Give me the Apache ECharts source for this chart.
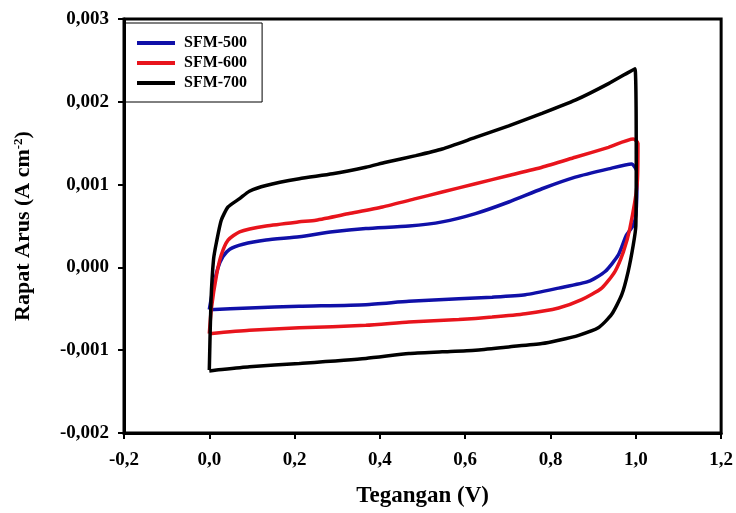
<!DOCTYPE html>
<html>
<head>
<meta charset="utf-8">
<title>Voltammogram SFM</title>
<script src="https://cdn.jsdelivr.net/npm/echarts@6/dist/echarts.min.js"></script>
<style>
  html, body { margin: 0; padding: 0; background: #fff; }
  #chart { width: 736px; height: 513px; }
</style>
</head>
<body>
<div id="chart"></div>
<script>
/* Kurva CV: rapat arus vs tegangan untuk SFM-500/600/700 */

// tegangan (V) dan rapat arus (A cm-2)
var sfm500V = [0.000, 0.009, 0.020, 0.032, 0.048, 0.079, 0.133, 0.211, 0.289, 0.367, 0.468, 0.546, 0.624, 0.702, 0.780, 0.858, 0.936, 0.990, 1.003, 1.000, 0.993, 0.978, 0.959, 0.928, 0.889, 0.819, 0.741, 0.663, 0.585, 0.468, 0.367, 0.211, 0.094, 0.000];
var sfm500J = [-0.00051, -0.00025, -0.00001, 0.00013, 0.00022, 0.00028, 0.00033, 0.00037, 0.00043, 0.00047, 0.00050, 0.00055, 0.00065, 0.00079, 0.00095, 0.00109, 0.00119, 0.00125, 0.00115, 0.00063, 0.00050, 0.00039, 0.00015, -0.00005, -0.00017, -0.00025, -0.00033, -0.00036, -0.00038, -0.00041, -0.00045, -0.00047, -0.00049, -0.00051];

var sfm600V = [0.000, 0.005, 0.017, 0.028, 0.044, 0.071, 0.133, 0.211, 0.250, 0.328, 0.406, 0.484, 0.546, 0.624, 0.702, 0.780, 0.858, 0.936, 0.994, 1.005, 1.003, 0.986, 0.971, 0.951, 0.920, 0.873, 0.819, 0.741, 0.663, 0.585, 0.468, 0.367, 0.211, 0.094, 0.000];
var sfm600J = [-0.00080, -0.00049, -0.00009, 0.00015, 0.00033, 0.00043, 0.00050, 0.00055, 0.00057, 0.00065, 0.00073, 0.00083, 0.00091, 0.00101, 0.00111, 0.00121, 0.00133, 0.00145, 0.00155, 0.00150, 0.00100, 0.00047, 0.00019, -0.00005, -0.00025, -0.00039, -0.00049, -0.00056, -0.00060, -0.00063, -0.00066, -0.00070, -0.00073, -0.00076, -0.00080];

var sfm700V = [0.000, 0.004, 0.010, 0.017, 0.028, 0.044, 0.071, 0.094, 0.133, 0.211, 0.289, 0.367, 0.414, 0.484, 0.546, 0.624, 0.702, 0.780, 0.858, 0.936, 0.998, 1.001, 1.000, 0.994, 0.982, 0.967, 0.943, 0.912, 0.866, 0.819, 0.780, 0.702, 0.624, 0.546, 0.468, 0.367, 0.211, 0.094, 0.017, 0.000];
var sfm700J = [-0.00124, -0.00040, 0.00010, 0.00031, 0.00057, 0.00073, 0.00083, 0.00092, 0.00099, 0.00107, 0.00113, 0.00121, 0.00127, 0.00135, 0.00143, 0.00157, 0.00171, 0.00186, 0.00202, 0.00222, 0.00240, 0.00130, 0.00050, 0.00027, -0.00005, -0.00033, -0.00057, -0.00073, -0.00082, -0.00088, -0.00092, -0.00096, -0.00100, -0.00102, -0.00104, -0.00110, -0.00116, -0.00120, -0.00124, -0.00125];

var seriesNames = ['SFM-500', 'SFM-600', 'SFM-700'];
var seriesColors = ['#1010a8', '#e8141c', '#000000'];

(function () {
  'use strict';

  var serif = '"Liberation Serif", "Times New Roman", serif';

  function pairs(xs, ys) {
    return xs.map(function (x, i) { return [x, ys[i]]; });
  }

  var curves = [pairs(sfm500V, sfm500J), pairs(sfm600V, sfm600J), pairs(sfm700V, sfm700J)];

  var chart = echarts.init(document.getElementById('chart'), null, { renderer: 'canvas' });

  chart.setOption({
    animation: false,
    backgroundColor: '#fff',
    grid: {
      left: 124,
      right: 12,
      top: 19,
      bottom: 79,
      show: true,
      borderColor: '#000',
      borderWidth: 3
    },
    legend: {
      orient: 'vertical',
      left: 125,
      top: 23,
      padding: [12, 15, 11, 12],
      itemGap: 4,
      itemWidth: 38,
      itemHeight: 4,
      icon: 'rect',
      borderColor: '#000',
      borderWidth: 1,
      data: seriesNames,
      textStyle: {
        color: '#000',
        fontFamily: serif,
        fontWeight: 'bold',
        fontSize: 16,
        padding: [0, 0, 0, 4]
      }
    },
    xAxis: {
      type: 'value',
      min: -0.2,
      max: 1.2,
      interval: 0.2,
      name: 'Tegangan (V)',
      nameLocation: 'middle',
      nameGap: 52,
      nameTextStyle: { color: '#000', fontFamily: serif, fontWeight: 'bold', fontSize: 23 },
      axisLine: { onZero: false, lineStyle: { color: '#000', width: 3 } },
      axisTick: { length: 6, lineStyle: { color: '#000', width: 2 } },
      splitLine: { show: false },
      axisLabel: {
        margin: 18,
        color: '#000',
        fontFamily: serif,
        fontWeight: 'bold',
        fontSize: 19,
        formatter: function (v) { return v.toFixed(1).replace('.', ','); }
      }
    },
    yAxis: {
      type: 'value',
      min: -0.002,
      max: 0.003,
      interval: 0.001,
      name: '{a|Rapat Arus (A cm}{s|-2}{a|)}',
      nameLocation: 'middle',
      nameGap: 90,
      nameTextStyle: {
        color: '#000',
        rich: {
          a: { fontFamily: serif, fontWeight: 'bold', fontSize: 22, color: '#000' },
          s: { fontFamily: serif, fontWeight: 'bold', fontSize: 13, color: '#000', verticalAlign: 'top' }
        }
      },
      axisLine: { onZero: false, lineStyle: { color: '#000', width: 3 } },
      axisTick: { length: 6, lineStyle: { color: '#000', width: 2 } },
      splitLine: { show: false },
      axisLabel: {
        margin: 15,
        color: '#000',
        fontFamily: serif,
        fontWeight: 'bold',
        fontSize: 19,
        formatter: function (v) { return v.toFixed(3).replace('.', ','); }
      }
    },
    series: curves.map(function (d, i) {
      return {
        name: seriesNames[i],
        type: 'line',
        data: d,
        showSymbol: false,
        symbol: 'none',
        smooth: 0.2,
        color: seriesColors[i],
        lineStyle: { color: seriesColors[i], width: 3.5 }
      };
    })
  });
})();
</script>
</body>
</html>
